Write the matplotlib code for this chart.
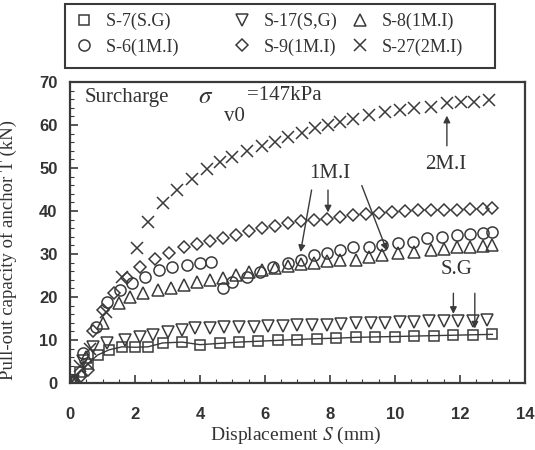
import matplotlib
matplotlib.use("Agg")
import matplotlib.pyplot as plt
from matplotlib.ticker import MultipleLocator
from matplotlib.patches import Rectangle

plt.rcParams['mathtext.fontset'] = 'stix'
SERIF = 'Liberation Serif'
SANS = 'Liberation Sans'

# ---------------- data ----------------
s7_x = [0.05, 0.3, 0.55, 0.85, 1.2, 1.6, 2.0, 2.4, 2.85, 3.45, 4.0, 4.6, 5.2, 5.8, 6.4,
        7.0, 7.6, 8.2, 8.8, 9.4, 10.0, 10.6, 11.2, 11.8, 12.4, 13.0]
s7_y = [0.3, 2.5, 4.5, 6.5, 7.7, 8.4, 8.3, 8.4, 9.3, 9.5, 8.9, 9.2, 9.5, 9.7, 9.9,
        10.1, 10.3, 10.4, 10.6, 10.7, 10.8, 10.9, 11.0, 11.1, 11.2, 11.3]

s17_x = [0.1, 0.4, 0.7, 1.15, 1.7, 2.15, 2.55, 3.0, 3.45, 3.85, 4.3, 4.75, 5.2, 5.65, 6.1,
         6.55, 7.0, 7.45, 7.9, 8.35, 8.8, 9.25, 9.7, 10.15, 10.6, 11.05, 11.5, 11.95, 12.4, 12.85]
s17_y = [0.5, 5.0, 8.4, 9.3, 10.0, 10.7, 11.2, 11.9, 12.3, 12.8, 12.8, 13.0, 13.0, 13.1, 13.2,
         13.3, 13.4, 13.5, 13.5, 13.6, 14.0, 13.9, 14.0, 14.1, 14.2, 14.3, 14.3, 14.4, 14.5, 14.6]

s8_x = [0.1, 0.5, 1.0, 1.5, 1.85, 2.25, 2.7, 3.1, 3.5, 3.9, 4.3, 4.7, 5.1, 5.5, 5.9, 6.3,
        6.7, 7.1, 7.5, 7.9, 8.3, 8.8, 9.2, 9.6, 10.1, 10.6, 11.1, 11.5, 11.9, 12.3, 12.7, 13.0]
s8_y = [0.3, 6.0, 14.0, 18.6, 20.0, 20.9, 21.6, 22.0, 22.8, 23.5, 24.0, 24.5, 25.2, 25.8, 26.3, 26.8,
        27.3, 27.7, 28.0, 28.3, 28.5, 28.7, 29.2, 29.8, 30.2, 30.5, 30.9, 31.2, 31.5, 31.7, 31.9, 32.1]

s6_x = [0.1, 0.4, 0.8, 1.15, 1.55, 1.9, 2.3, 2.75, 3.15, 3.6, 4.0, 4.35, 4.7, 5.0, 5.45, 5.85,
        6.25, 6.7, 7.1, 7.5, 7.9, 8.3, 8.7, 9.2, 9.6, 10.1, 10.55, 11.0, 11.45, 11.9, 12.3, 12.7, 13.0]
s6_y = [0.5, 7.0, 13.0, 18.8, 21.6, 23.2, 24.7, 26.3, 27.0, 27.4, 27.9, 28.1, 22.1, 23.5, 24.7, 25.8,
        27.0, 27.9, 28.6, 29.8, 30.2, 30.9, 31.6, 31.6, 32.1, 32.6, 32.8, 33.7, 34.0, 34.4, 34.7, 34.9, 35.1]

s9_x = [0.1, 0.35, 0.55, 0.72, 1.0, 1.35, 1.75, 2.15, 2.6, 3.05, 3.5, 3.9, 4.3, 4.7, 5.1, 5.5,
        5.9, 6.3, 6.7, 7.1, 7.5, 7.9, 8.3, 8.7, 9.1, 9.5, 9.9, 10.3, 10.7, 11.1, 11.5, 11.9,
        12.3, 12.7, 13.0]
s9_y = [0.3, 1.5, 3.0, 12.0, 17.0, 21.0, 24.5, 27.0, 28.8, 30.3, 31.5, 32.3, 33.0, 33.6, 34.5, 35.3,
        36.0, 36.6, 37.2, 37.6, 37.9, 38.2, 38.6, 39.0, 39.3, 39.6, 39.8, 40.0, 40.1, 40.2, 40.2, 40.3,
        40.4, 40.5, 40.7]

s27_x = [0.05, 0.3, 0.6, 1.1, 1.6, 2.05, 2.4, 2.85, 3.3, 3.75, 4.2, 4.6, 5.0, 5.45, 5.9, 6.3,
         6.7, 7.15, 7.55, 7.95, 8.3, 8.7, 9.2, 9.7, 10.15, 10.6, 11.1, 11.6, 12.05, 12.45, 12.9]
s27_y = [0.5, 4.0, 8.0, 16.5, 24.7, 31.4, 37.4, 41.9, 44.9, 47.4, 49.8, 51.4, 52.6, 54.0, 55.1, 56.0,
         57.2, 58.1, 59.3, 60.0, 60.7, 61.4, 62.3, 63.0, 63.5, 64.0, 64.2, 65.1, 65.3, 65.3, 65.8]

labels = ['S-7(S.G)', 'S-17(S,G)', 'S-8(1M.I)', 'S-6(1M.I)', 'S-9(1M.I)', 'S-27(2M.I)']

x_ticks = [0, 2, 4, 6, 8, 10, 12, 14]
y_ticks = [0, 10, 20, 30, 40, 50, 60, 70]

# ---------------- figure ----------------
C = '#3a3a3a'
TC = '#333333'
fig = plt.figure(figsize=(5.35, 4.5), dpi=100)
ax = fig.add_axes([0.131, 0.149, 0.850, 0.669])

mk = dict(linestyle='none', markerfacecolor='none', markeredgecolor=C, markeredgewidth=1.1)
h7, = ax.plot(s7_x, s7_y, marker='s', markersize=6.5, color=C, linewidth=1.0,
              markerfacecolor='none', markeredgecolor=C, markeredgewidth=1.1)
h17, = ax.plot(s17_x, s17_y, marker='v', markersize=8, **mk)
h8, = ax.plot(s8_x, s8_y, marker='^', markersize=8, **mk)
h6, = ax.plot(s6_x, s6_y, marker='o', markersize=8, **mk)
h9, = ax.plot(s9_x, s9_y, marker='D', markersize=6.5, **mk)
h27, = ax.plot(s27_x, s27_y, marker='x', markersize=8, **mk)

ax.set_xlim(0, 14)
ax.set_ylim(0, 70)
ax.set_xticks(x_ticks)
ax.set_yticks(y_ticks)
ax.xaxis.set_minor_locator(MultipleLocator(0.5))
ax.yaxis.set_minor_locator(MultipleLocator(2))
ax.tick_params(which='both', direction='in', colors=C, top=False, right=False)
ax.tick_params(which='major', length=6, width=1.2, labelsize=12)
ax.tick_params(axis='x', which='major', pad=17)
ax.tick_params(axis='y', which='major', pad=9)
ax.tick_params(which='minor', length=3, width=0.8)
for lab in ax.get_xticklabels() + ax.get_yticklabels():
    lab.set_fontfamily(SANS)
    lab.set_fontweight('bold')
    lab.set_color(TC)
for sp in ax.spines.values():
    sp.set_linewidth(1.6)
    sp.set_color(C)

ax.set_xlabel(r'Displacement $S$ (mm)', fontfamily=SERIF, fontsize=14, color=TC)
ax.set_ylabel('Pull-out capacity of anchor T (kN)', fontfamily=SERIF, fontsize=13.5, color=TC)
ax.yaxis.set_label_coords(-0.116, 0.44)
ax.xaxis.set_label_coords(0.495, -0.138)

# surcharge text
tkw = dict(fontfamily=SERIF, color=TC, va='center', ha='left')
ax.text(0.45, 66.3, 'Surcharge', fontsize=15, **tkw)
ax.text(3.95, 66.5, r'$\sigma$', fontsize=18, **tkw)
ax.text(4.75, 62.0, 'v0', fontsize=15, **tkw)
ax.text(5.45, 66.8, '=147kPa', fontsize=15, **tkw)

# annotations
akw = dict(arrowstyle='-|>', color=C, lw=1.0, mutation_scale=10)
ax.text(11.55, 50.8, '2M.I', fontsize=15, fontfamily=SERIF, color=TC, ha='center', va='center')
ax.annotate('', xy=(11.6, 62.8), xytext=(11.6, 54.5), arrowprops=akw)

ax.text(8.0, 48.8, '1M.I', fontsize=15, fontfamily=SERIF, color=TC, ha='center', va='center')
ax.annotate('', xy=(7.08, 29.8), xytext=(7.45, 45.5), arrowprops=akw)
ax.annotate('', xy=(7.94, 39.0), xytext=(7.94, 45.5), arrowprops=akw)
ax.annotate('', xy=(9.78, 30.2), xytext=(8.95, 46.5), arrowprops=akw)

ax.text(11.9, 26.3, 'S.G', fontsize=15, fontfamily=SERIF, color=TC, ha='center', va='center')
ax.annotate('', xy=(11.8, 15.4), xytext=(11.8, 21.5), arrowprops=akw)
ax.annotate('', xy=(12.46, 12.0), xytext=(12.46, 21.5), arrowprops=akw)

# legend (row-wise order); padded labels to mimic column positions
handles = [h7, h6, h17, h9, h8, h27]
order_labels = [labels[0] + ' ' * 11, labels[3] + ' ' * 9, labels[1], labels[4],
                labels[2], labels[5]]
leg = fig.legend(handles, order_labels, ncol=3, loc='upper left',
                 bbox_to_anchor=(66 / 535, 1 - 4 / 450),
                 prop={'family': SERIF, 'size': 13}, frameon=False,
                 handlelength=1.0, handletextpad=0.7, columnspacing=0.75,
                 labelspacing=0.45, borderaxespad=0.0, borderpad=0.5)
for t in leg.get_texts():
    t.set_color(TC)
leg.legend_handles[0].set_linestyle('none')
# legend frame as drawn in the reference
fig.add_artist(Rectangle((65 / 535, 1 - 68 / 450), 430 / 535, 64 / 450,
                         transform=fig.transFigure, fill=False, lw=1.5, ec=C))

fig.savefig('out.png', dpi=100)
